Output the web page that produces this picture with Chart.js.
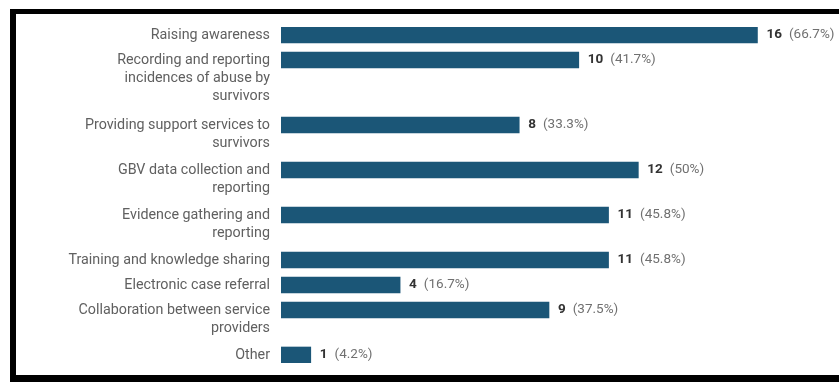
<!DOCTYPE html>
<html>
<head>
<meta charset="utf-8">
<script src="https://cdn.jsdelivr.net/npm/chart.js@4.4.1/dist/chart.umd.min.js"></script>
<style>
  html, body { margin: 0; padding: 0; background: #fff; overflow: hidden; }
  body { width: 839px; height: 382px; position: relative; }
  .frame {
    position: absolute; left: 10px; top: 9px; width: 900px; height: 361px;
    border-top: 5px solid #000; border-left: 6px solid #000; border-bottom: 7px solid #000;
  }
  #wrap { position: absolute; left: 0; top: 0; width: 839px; height: 382px; }
</style>
</head>
<body>
<div class="frame"></div>
<div id="wrap"><canvas id="chart"></canvas></div>
<script>
// one entry per bar, label lines as shown in the picture
const categories = [
  ['Raising awareness'],
  ['Recording and reporting', 'incidences of abuse by', 'survivors'],
  ['Providing support services to', 'survivors'],
  ['GBV data collection and', 'reporting'],
  ['Evidence gathering and', 'reporting'],
  ['Training and knowledge sharing'],
  ['Electronic case referral'],
  ['Collaboration between service', 'providers'],
  ['Other']
];
const counts = [16, 10, 8, 12, 11, 11, 4, 9, 1];
const percents = ['66.7%', '41.7%', '33.3%', '50%', '45.8%', '45.8%', '16.7%', '37.5%', '4.2%'];

// rows get taller when the label wraps onto more lines
const BAR = 16;
const LINE = 18;
const rowSize = (lines) => 25 + 20 * (lines - 1);
const rowPos = [];
let acc = 0;
categories.forEach((c) => { rowPos.push(acc + BAR / 2); acc += rowSize(c.length); });
const yMax = rowPos[rowPos.length - 1] + BAR / 2;

const labelPlugin = {
  id: 'rowLabels',
  afterDatasetsDraw(chart) {
    const { ctx, chartArea } = chart;
    const y = chart.scales.y;
    const bars = chart.getDatasetMeta(0).data;
    ctx.save();
    ctx.textBaseline = 'middle';
    categories.forEach((lines, i) => {
      const py = y.getPixelForValue(rowPos[i]);
      ctx.font = '14.3px Roboto';
      ctx.fillStyle = '#606060';
      ctx.textAlign = 'right';
      lines.forEach((t, k) => ctx.fillText(t, chartArea.left - 11, py + k * LINE));

      const bx = bars[i].x + 9;
      ctx.textAlign = 'left';
      ctx.font = 'bold 13.5px Roboto';
      ctx.fillStyle = '#333';
      const n = String(counts[i]);
      ctx.fillText(n, bx, py);
      const w = ctx.measureText(n).width;
      ctx.font = '13.5px Roboto';
      ctx.fillStyle = '#707070';
      ctx.fillText('(' + percents[i] + ')', bx + w + 7, py);
    });
    ctx.restore();
  }
};

new Chart(document.getElementById('chart'), {
  type: 'bar',
  data: {
    datasets: [{
      data: counts.map((v, i) => ({ x: v, y: rowPos[i] })),
      backgroundColor: '#1b5677',
      barThickness: BAR,
      borderWidth: 0
    }]
  },
  options: {
    indexAxis: 'y',
    responsive: true,
    maintainAspectRatio: false,
    animation: false,
    layout: { padding: { left: 281, right: 22, top: 27, bottom: 19 } },
    scales: {
      x: { type: 'linear', min: 0, max: 18, display: false },
      y: { type: 'linear', min: 0, max: yMax, reverse: true, offset: false, display: false }
    },
    plugins: { legend: { display: false }, tooltip: { enabled: false } }
  },
  plugins: [labelPlugin]
});
</script>
</body>
</html>
